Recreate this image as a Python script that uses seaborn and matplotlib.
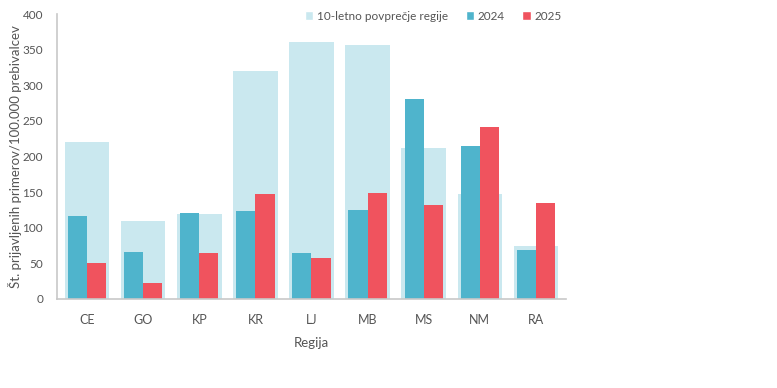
"""Regional case rates: 10-year average vs 2024 and 2025."""

import matplotlib

matplotlib.use("Agg")
import matplotlib.pyplot as plt
from matplotlib.patches import Patch
import pandas as pd
import seaborn as sns

regions = ["CE", "GO", "KP", "KR", "LJ", "MB", "MS", "NM", "RA"]
avg_10y = [220, 109, 119, 320, 361, 357, 212, 147, 75]
cases_2024 = [117, 66, 121, 124, 64, 125, 281, 215, 69]
cases_2025 = [51, 23, 64, 147, 58, 149, 132, 242, 135]

C_AVG = "#cae8ef"
C_2024 = "#4fb4cc"
C_2025 = "#f0535e"
TEXT = "#555555"
AXIS = "#c8c8c8"

sns.set_theme(style="white")
plt.rcParams["font.family"] = ["Lato", "DejaVu Sans"]

df_avg = pd.DataFrame({"Regija": regions, "value": avg_10y})
df_years = pd.DataFrame(
    {
        "Regija": regions * 2,
        "leto": ["2024"] * len(regions) + ["2025"] * len(regions),
        "value": cases_2024 + cases_2025,
    }
)

fig = plt.figure(figsize=(7.77, 3.88), dpi=100)
ax = fig.add_axes([0.0734, 0.2294, 0.655, 0.7345])

sns.barplot(data=df_avg, x="Regija", y="value", color=C_AVG, width=0.79,
            saturation=1, ax=ax, order=regions, linewidth=0)
sns.barplot(data=df_years, x="Regija", y="value", hue="leto",
            palette={"2024": C_2024, "2025": C_2025}, width=0.68,
            saturation=1, ax=ax, order=regions, legend=False, linewidth=0)

ax.set_ylim(0, 400)
ax.set_xlim(-0.54, 8.54)
ax.set_yticks(range(0, 401, 50))

for side in ["top", "right"]:
    ax.spines[side].set_visible(False)
ax.spines["left"].set_color(AXIS)
ax.spines["bottom"].set_color(AXIS)
ax.spines["left"].set_linewidth(1.2)
ax.spines["bottom"].set_linewidth(1.2)
ax.tick_params(axis="y", length=4, width=1, color=AXIS, labelsize=8.5, labelcolor=TEXT, pad=6)
ax.tick_params(axis="x", length=0, labelsize=9, labelcolor=TEXT, pad=11)

ax.set_xlabel("Regija", fontsize=9.5, color=TEXT, labelpad=8)
ax.set_ylabel("Št. prijavljenih primerov/100.000 prebivalcev", fontsize=9.5,
              color=TEXT, va="center")
ax.yaxis.set_label_coords(-0.083, 0.5)

handles = [
    Patch(facecolor=C_AVG, label="10-letno povprečje regije"),
    Patch(facecolor=C_2024, label="2024"),
    Patch(facecolor=C_2025, label="2025"),
]
fig.legend(handles=handles, loc="upper left", bbox_to_anchor=(0.379, 1.0), ncol=3,
           frameon=False, fontsize=8.5, labelcolor=TEXT, handlelength=0.7,
           handleheight=0.7, handletextpad=0.3, columnspacing=1.5)

fig.savefig("out.png", dpi=100)
plt.close(fig)
